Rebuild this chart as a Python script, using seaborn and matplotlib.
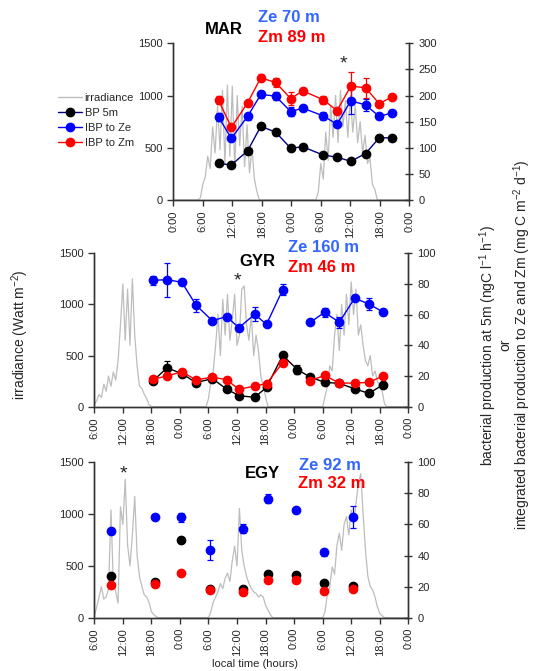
import numpy as np
import pandas as pd
import matplotlib
matplotlib.use("Agg")
import matplotlib.pyplot as plt
import seaborn as sns
from matplotlib.lines import Line2D

# ---------------- MAR ----------------
mar_hours = [9.2, 11.8, 15.1, 17.8, 20.8, 23.9, 26.3, 30.5, 33.3, 36.1, 39.1, 41.9, 44.5]
mar_bp = [70, 67, 94, 141, 130, 99, 102, 86, 82, 74, 89, 119, 119]
mar_bp_err = [2, 2, 2, 4, 5, 2, 2, 4, 2, 2, 2, 2, 2]
mar_ze = [159, 118, 160, 202, 199, 169, 176, 161, 145, 190, 182, 160, 167]
mar_ze_err = [8, 5, 6, 6, 8, 9, 4, 8, 4, 25, 12, 4, 5]
mar_zm = [191, 139, 186, 234, 225, 194, 209, 192, 171, 218, 215, 184, 198]
mar_zm_err = [8, 4, 6, 7, 9, 12, 4, 8, 5, 27, 19, 5, 5]
mar_irr_day1 = [0, 20, 150, 220, 420, 300, 700, 450, 900, 480, 1050, 350, 1100, 420,
                1090, 300, 1000, 520, 900, 320, 720, 260, 500, 200, 80, 0]
mar_irr_day2 = [0, 80, 350, 200, 650, 380, 900, 600, 1000, 550, 1050, 700, 950, 600,
                1000, 650, 900, 550, 750, 450, 620, 350, 400, 150, 100, 0]

# ---------------- GYR ----------------
gyr_hours = [18.4, 21.3, 24.4, 27.4, 30.8, 33.8, 36.4, 39.7, 42.2, 45.6, 48.7, 51.4,
             54.4, 57.5, 60.7, 63.7, 66.7]
gyr_bp = [17.0, 25.4, 21.5, 15.7, 18.3, 11.5, 7.2, 6.1, 12.6, 33.5, 24.1, 19.3,
          15.9, 15.2, 11.7, 8.7, 14.3]
gyr_bp_err = [1, 4.6, 1, 1, 1, 1, 1, 1, 1, 1, 3, 1, 1, 1, 1, 1, 1]
gyr_ze = [82.4, 82.8, 81.1, 66.1, 56.1, 58.7, 51.5, 60.2, 53.7, 76.3, np.nan, 55.0,
          61.5, 55.0, 70.7, 67.0, 61.7]
gyr_ze_err = [3, 11, 2, 4.3, 1, 1, 1, 4.6, 1, 3.5, np.nan, 1, 3, 3.5, 1, 4, 2]
gyr_zm = [18.0, 20.0, 22.8, 17.4, 19.3, 17.6, 11.3, 13.5, 15.0, 28.7, np.nan, 17.0,
          20.4, 15.4, 15.4, 15.9, 20.0]
gyr_zm_err = [1, 1, 1, 1, 1, 1, 1, 1, 1, 1, np.nan, 1, 1, 1, 1, 1, 1]
gyr_irr_day1 = [20, 60, 120, 90, 220, 150, 300, 200, 340, 260, 450, 800, 1200, 650,
                1150, 600, 1250, 700, 400, 200, 180, 120, 80, 20, 0]
gyr_irr_day2 = [0, 80, 250, 350, 600, 900, 500, 1050, 700, 1100, 650, 850, 1100, 600,
                700, 1150, 1180, 800, 650, 900, 500, 700, 550, 300, 200, 100, 0]
gyr_irr_day3 = [0, 100, 200, 400, 350, 700, 900, 550, 1000, 700, 1100, 800, 1220, 900,
                1150, 700, 800, 600, 450, 400, 500, 300, 350, 250, 200, 150, 30, 0]

# ---------------- EGY ----------------
egy_hours = [9.5, 18.7, 24.3, 30.4, 37.3, 42.6, 48.5, 54.2, 60.4]
egy_bp = [26.8, 23.0, 49.8, 18.7, 18.7, 28.4, 27.3, 22.4, 20.3]
egy_bp_err = [1, 1, 1, 1, 1, 1, 1, 1, 1]
egy_ze = [55.8, 64.8, 64.6, 43.6, 57.1, 76.6, 69.1, 42.1, 64.8]
egy_ze_err = [1, 1, 2.7, 6.2, 2.9, 3, 1.5, 2.4, 7.3]
egy_zm = [21.2, 21.5, 29.0, 17.8, 16.4, 24.1, 24.1, 17.4, 18.5]
egy_zm_err = [1, 1, 1, 1, 1.5, 1, 1, 1, 1.5]
egy_irr_day1 = [20, 100, 200, 300, 180, 200, 280, 1040, 330, 250, 140, 1070, 900, 1335,
                700, 500, 800, 1170, 600, 400, 300, 220, 200, 150, 60, 30, 10, 0]
egy_irr_day2 = [0, 60, 150, 200, 250, 330, 280, 380, 430, 350, 550, 690, 500, 1055,
                650, 500, 400, 330, 280, 250, 235, 200, 220, 200, 120, 75, 30, 0]
egy_irr_day3 = [0, 60, 235, 300, 490, 420, 700, 815, 650, 900, 975, 800, 1040, 900,
                1100, 1300, 1390, 1000, 650, 400, 300, 270, 200, 105, 40, 20, 0]

GRAY = '#bdbdbd'
BLUE = '#0000ff'
RED = '#ff0000'
W, H = 535, 671


def irr_frame(xlim, days):
    # days: list of (start hour, half-hourly values)
    t = [xlim[0]]
    v = [0]
    for start, vals in days:
        t += list(start + 0.5 * np.arange(len(vals)))
        v += vals
    t.append(xlim[1])
    v.append(0)
    return pd.DataFrame({'hour': t, 'irr': v})


def panel(fig, px, xlim, irr, hours, bp, bp_err, ze, ze_err, zm, zm_err,
          y2max, y2step, lines=True, bp_line='black'):
    left, right, top, bottom = px
    ax = fig.add_axes([left / W, 1 - bottom / H, (right - left) / W, (bottom - top) / H])
    sns.lineplot(data=irr, x='hour', y='irr', sort=False, estimator=None,
                 color=GRAY, lw=0.9, ax=ax)
    ax.set_xlim(xlim)
    ax.set_ylim(0, 1500)
    ticks = np.arange(xlim[0], xlim[1] + 1, 6)
    ax.set_xticks(ticks)
    ax.set_xticklabels([f"{int(h % 24)}:00" for h in ticks], rotation=90)
    ax.set_yticks([0, 500, 1000, 1500])
    ax.set_xlabel('')
    ax.set_ylabel('')
    ax.tick_params(labelsize=8, length=4, width=1, direction='out', color='#333333')

    ax2 = ax.twinx()
    ls = '-' if lines else 'none'
    ax2.errorbar(hours, bp, yerr=bp_err, fmt='o', ls=ls, lw=1, color=bp_line,
                 mfc='black', mec='black', ecolor='black', ms=6,
                 elinewidth=0.9, capsize=2, capthick=0.9)
    ax2.errorbar(hours, ze, yerr=ze_err, fmt='o', ls=ls, lw=1, color=BLUE,
                 mfc=BLUE, mec=BLUE, ecolor=BLUE, ms=6,
                 elinewidth=0.9, capsize=2, capthick=0.9)
    ax2.errorbar(hours, zm, yerr=zm_err, fmt='o', ls=ls, lw=1, color=RED,
                 mfc=RED, mec=RED, ecolor=RED, ms=6,
                 elinewidth=0.9, capsize=2, capthick=0.9)
    ax2.set_ylim(0, y2max)
    ax2.set_yticks(np.arange(0, y2max + 1, y2step))
    ax2.tick_params(labelsize=8, length=6, width=1, direction='inout', color='#333333')

    for a in (ax, ax2):
        a.spines['top'].set_visible(False)
        for s in ('left', 'right', 'bottom'):
            a.spines[s].set_color('#333333')
            a.spines[s].set_linewidth(1)
    return ax, ax2


def ftext(x, y, s, **kw):
    fig.text(x / W, 1 - y / H, s, **kw)


sns.set_style("ticks")
plt.rcParams['font.family'] = ['Liberation Sans', 'DejaVu Sans']
plt.rcParams['mathtext.default'] = 'regular'

fig = plt.figure(figsize=(W / 100, H / 100), dpi=100)

mar_irr = irr_frame((0, 48), [(5.0, mar_irr_day1), (29.0, mar_irr_day2)])
panel(fig, (173.3, 409.3, 43.3, 200), (0, 48), mar_irr, mar_hours,
      mar_bp, mar_bp_err, mar_ze, mar_ze_err, mar_zm, mar_zm_err,
      300, 50, lines=True, bp_line='#000080')

gyr_irr = irr_frame((6, 72), [(6.0, gyr_irr_day1), (29.5, gyr_irr_day2), (54.0, gyr_irr_day3)])
panel(fig, (94.3, 408.3, 253.3, 406.7), (6, 72), gyr_irr, gyr_hours,
      gyr_bp, gyr_bp_err, gyr_ze, gyr_ze_err, gyr_zm, gyr_zm_err,
      100, 20, lines=True, bp_line='black')

egy_irr = irr_frame((6, 72), [(6.0, egy_irr_day1), (30.0, egy_irr_day2), (54.0, egy_irr_day3)])
panel(fig, (94.3, 408.3, 462.3, 617.7), (6, 72), egy_irr, egy_hours,
      egy_bp, egy_bp_err, egy_ze, egy_ze_err, egy_zm, egy_zm_err,
      100, 20, lines=False)

# titles
bold = dict(fontsize=12, fontweight='bold', ha='left', va='center')
ftext(205, 29, 'MAR', color='black', **bold)
ftext(258, 17, 'Ze 70 m', color='#3366ff', **bold)
ftext(258, 37, 'Zm 89 m', color=RED, **bold)
ftext(239, 261, 'GYR', color='black', **bold)
ftext(288, 248, 'Ze 160 m', color='#3366ff', **bold)
ftext(288, 268, 'Zm 46 m', color=RED, **bold)
ftext(245, 473, 'EGY', color='black', **bold)
ftext(299, 465, 'Ze 92 m', color='#3366ff', **bold)
ftext(298, 484, 'Zm 32 m', color=RED, **bold)

# asterisks
star = dict(fontsize=14, ha='center', va='center')
ftext(343, 64, '*', **star)
ftext(237, 281, '*', **star)
ftext(123, 474, '*', **star)

# axis labels
ftext(20, 335, 'irradiance (Watt m$^{-2}$)', rotation=90, ha='center', va='center', fontsize=10)
ftext(488, 345, 'bacterial production at 5m (ngC l$^{-1}$ h$^{-1}$)',
      rotation=90, ha='center', va='center', fontsize=10)
ftext(505, 345, 'or', rotation=90, ha='center', va='center', fontsize=10)
ftext(522, 345, 'integrated bacterial production to Ze and Zm (mg C m$^{-2}$ d$^{-1}$)',
      rotation=90, ha='center', va='center', fontsize=10)
ftext(255, 664, 'local time (hours)', ha='center', va='center', fontsize=8)

# legend
handles = [
    Line2D([], [], color=GRAY, lw=1),
    Line2D([], [], color='#000080', lw=1, marker='o', mfc='black', mec='black', ms=6),
    Line2D([], [], color=BLUE, lw=1, marker='o', mfc=BLUE, mec=BLUE, ms=6),
    Line2D([], [], color=RED, lw=1, marker='o', mfc=RED, mec=RED, ms=6),
]
labels = ['irradiance', 'BP 5m', 'IBP to Ze', 'IBP to Zm']
fig.legend(handles, labels, loc='upper left', bbox_to_anchor=(58 / W, 1 - 93 / H),
           frameon=False, fontsize=8, handlelength=2.2, handletextpad=0.2,
           labelspacing=0.45, borderaxespad=0, borderpad=0)

fig.savefig('out.png', dpi=100)
